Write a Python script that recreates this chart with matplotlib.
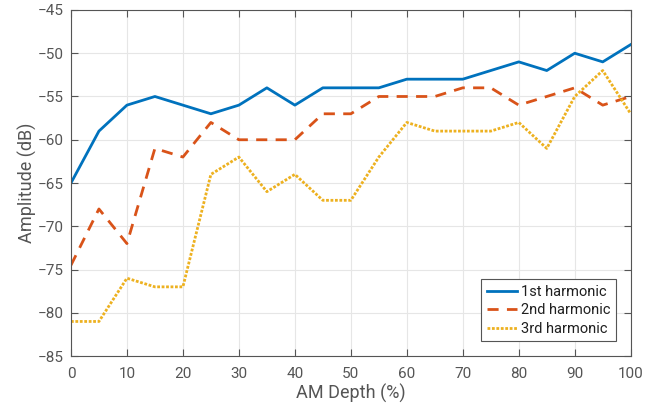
import numpy as np
import matplotlib.pyplot as plt

plt.rcParams['font.family'] = ['Roboto', 'DejaVu Sans']

# AM depth (%) and amplitude (dB) of each harmonic
depth = [0, 5, 10, 15, 20, 25, 30, 35, 40, 45, 50, 55, 60, 65, 70, 75, 80, 85, 90, 95, 100]
h1 = [-65, -59, -56, -55, -56, -57, -56, -54, -56, -54, -54, -54, -53, -53, -53, -52, -51, -52, -50, -51, -49]
h2 = [-74.5, -68, -72, -61, -62, -58, -60, -60, -60, -57, -57, -55, -55, -55, -54, -54, -56, -55, -54, -56, -55]
h3 = [-81, -81, -76, -77, -77, -64, -62, -66, -64, -67, -67, -62, -58, -59, -59, -59, -58, -61, -55, -52, -57]

fig = plt.figure(figsize=(6.57, 4.15), dpi=100)
ax = fig.add_axes([0.108, 0.142, 0.852, 0.834])

ax.plot(depth, h1, color='#0072BD', lw=2, label='1st harmonic')
ax.plot(depth, h2, color='#D95319', lw=2, ls=(0, (4, 3)), label='2nd harmonic')
ax.plot(depth, h3, color='#EDB120', lw=2, ls=(0, (1, 0.6)), label='3rd harmonic')

ax.set_xlim(0, 100)
ax.set_ylim(-85, -45)
ax.set_xticks(np.arange(0, 101, 10))
ax.set_yticks(np.arange(-85, -44, 5))
ax.grid(True, color='#e6e6e6', lw=0.8)
ax.set_axisbelow(True)

grey = '#555555'
for s in ax.spines.values():
    s.set_color(grey)
    s.set_linewidth(0.8)
ax.tick_params(direction='in', top=True, right=True, colors=grey, labelsize=11, length=5)
ax.tick_params(axis='x', pad=8)
ax.tick_params(axis='y', pad=5.5)

ax.set_xlabel('AM Depth (%)', fontsize=13, color=grey, labelpad=2)
ax.set_ylabel('Amplitude (dB)', fontsize=13, color=grey, labelpad=0)

leg = ax.legend(loc='lower right', fontsize=10.5, fancybox=False, framealpha=1,
                edgecolor=grey, handlelength=2.1, handletextpad=0.25,
                borderpad=0.4, labelspacing=0.3, borderaxespad=1.0)
leg.get_frame().set_linewidth(0.8)
for t in leg.get_texts():
    t.set_color('#202020')

fig.savefig('out.png', dpi=100)
